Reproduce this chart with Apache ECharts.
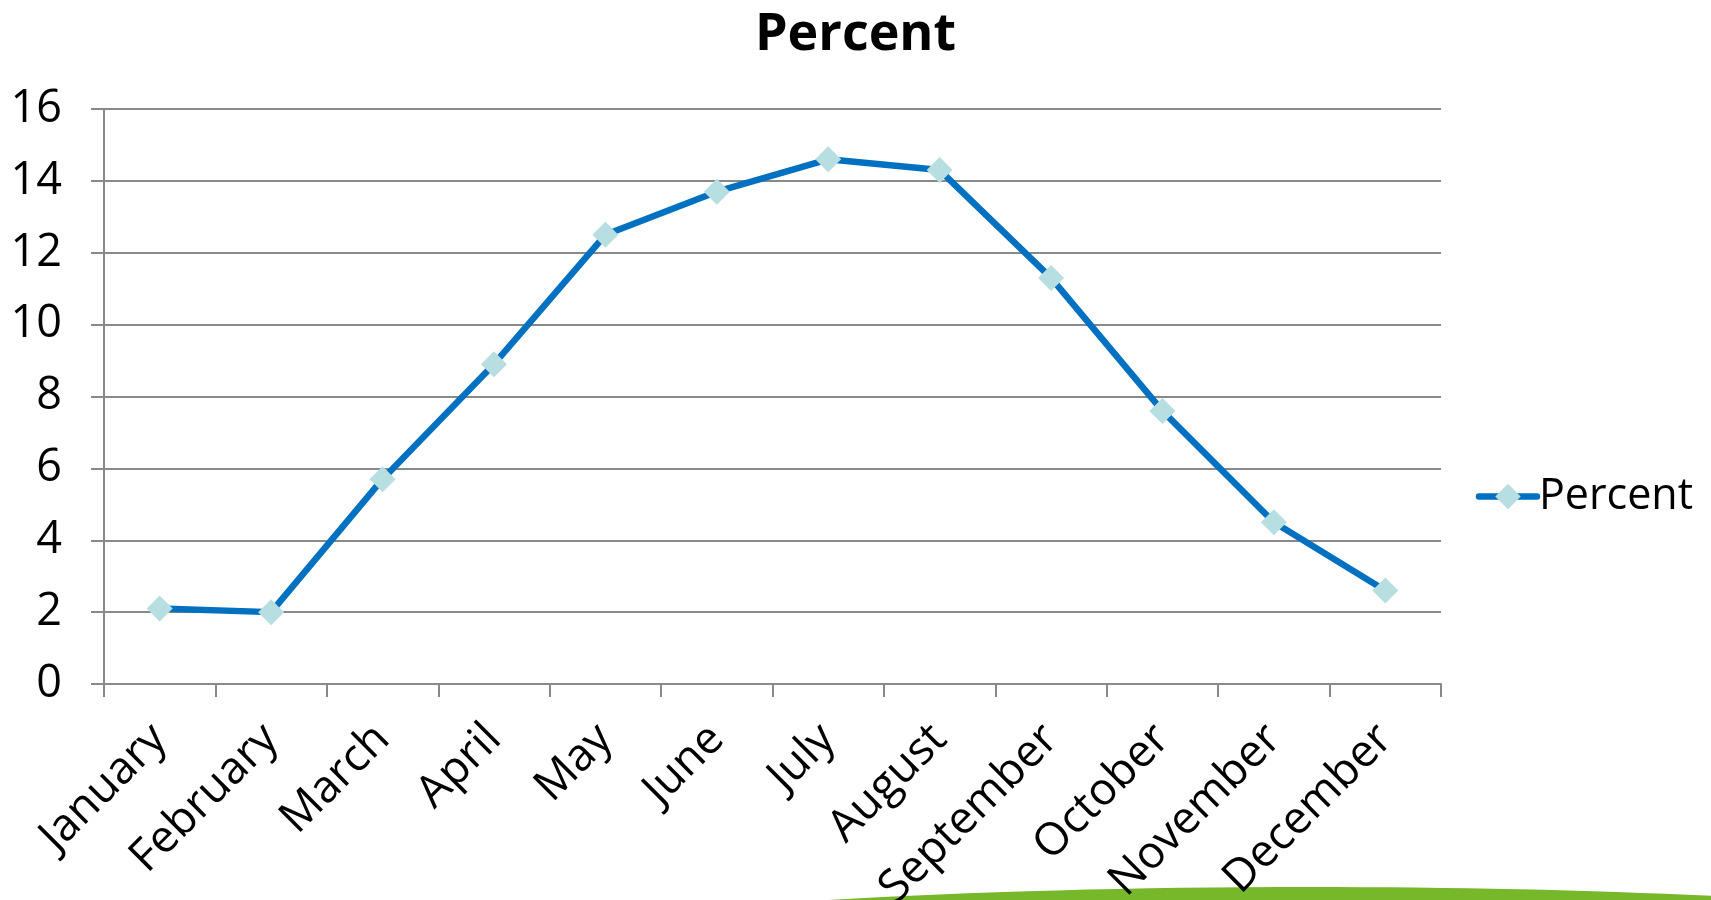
<!DOCTYPE html>
<html>
<head>
<meta charset="utf-8">
<script src="https://cdn.jsdelivr.net/npm/echarts@6/dist/echarts.min.js"></script>
<style>
html,body{margin:0;padding:0;background:#fff;}
#chart{width:1711px;height:900px;}
</style>
</head>
<body>
<div id="chart"></div>
<script>
const categories = ["January","February","March","April","May","June","July","August","September","October","November","December"];
const percentValues = [2.1, 2.0, 5.7, 8.9, 12.5, 13.7, 14.6, 14.3, 11.3, 7.6, 4.5, 2.6];
const seriesName = "Percent";
const titleText = "Percent";

const FONT = "'Open Sans', 'Noto Sans', sans-serif";
const chart = echarts.init(document.getElementById('chart'));
chart.setOption({
  animation: false,
  backgroundColor: '#ffffff',
  title: {
    text: titleText,
    left: 'center',
    top: 4,
    textStyle: {fontFamily: FONT, fontWeight: 'bold', fontSize: 52, color: '#000'}
  },
  legend: {
    right: 13,
    top: 470,
    orient: 'vertical',
    itemWidth: 58,
    itemHeight: 32,
    itemGap: 0,
    lineStyle: {width: 6.5, color: '#0070C0', cap: 'round'},
    itemStyle: {color: '#B7DEE0', borderWidth: 0},
    textStyle: {fontFamily: FONT, fontSize: 43, color: '#000', padding: [0,0,0,-3]},
    data: [{name: seriesName}]
  },
  grid: {left: 104, right: 270, top: 109, bottom: 216, containLabel: false, outerBoundsMode: 'none'},
  xAxis: {
    type: 'category',
    data: categories,
    boundaryGap: true,
    axisLine: {show: true, lineStyle: {color: '#898989', width: 2}},
    axisTick: {show: true, length: 13, alignWithLabel: false, lineStyle: {color: '#898989', width: 2}},
    axisLabel: {rotate: 45, fontFamily: FONT, fontSize: 45, color: '#000', margin: 48, interval: 0}
  },
  yAxis: {
    type: 'value',
    min: 0, max: 16, interval: 2,
    axisLine: {show: true, lineStyle: {color: '#898989', width: 2}},
    axisTick: {show: true, length: 13, lineStyle: {color: '#898989', width: 2}},
    splitLine: {show: true, lineStyle: {color: '#898989', width: 2}},
    axisLabel: {fontFamily: FONT, fontSize: 45, color: '#000', margin: 42}
  },
  graphic: [{
    type: 'ellipse',
    shape: {cx: 1310, cy: 987, rx: 976, ry: 100},
    style: {fill: '#76B82A'},
    z: -1
  }],
  series: [{
    name: seriesName,
    type: 'line',
    data: percentValues,
    symbol: 'diamond',
    symbolSize: 26,
    lineStyle: {color: '#0070C0', width: 6.5},
    itemStyle: {color: '#B7DEE0', borderWidth: 0},
    emphasis: {disabled: true}
  }]
});
</script>
</body>
</html>
